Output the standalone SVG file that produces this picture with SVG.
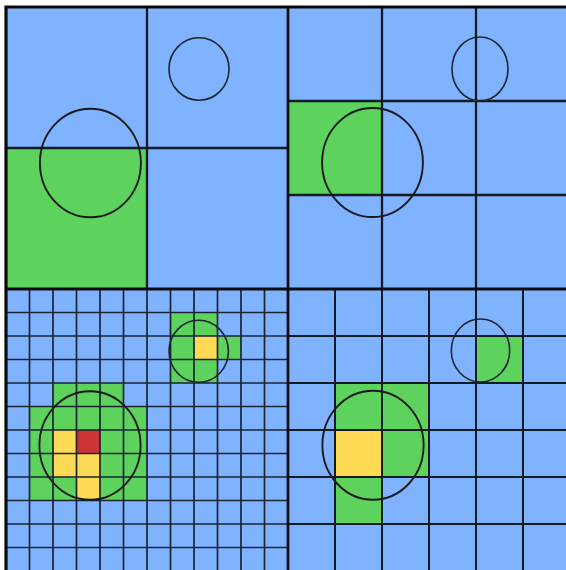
<svg xmlns="http://www.w3.org/2000/svg" width="566" height="570" viewBox="0 0 566 570">
  <style>
    .blue{fill:#80B3FF}
    .green{fill:#5DD25D}
    .yellow{fill:#FFDA55}
    .red{fill:#CC3535}
    .fine{stroke:#1b2433;stroke-width:1.7;fill:none}
    .mid{stroke:#121a26;stroke-width:2.3;fill:none}
    .thick{stroke:#0d0d12;stroke-width:2.8;fill:none}
    .border{stroke:#0a0a0a;stroke-width:3.2;fill:none}
    .circ{stroke:#1a1a1a;stroke-width:1.9;fill:none}
    .circs{stroke:#1e2430;stroke-width:1.6;fill:none}
  </style>
  <rect x="0" y="0" width="566" height="570" fill="#ffffff"/>
  <rect class="blue" x="6" y="7" width="564" height="564"/>

  <g id="quadrant-top-left">
    <rect class="green" x="6" y="148" width="141" height="141"/>
    <path class="mid" d="M147,7 V289 M6,148 H288"/>
  </g>

  <g id="quadrant-top-right">
    <rect class="green" x="288" y="101" width="94" height="94"/>
    <path class="mid" d="M382,7 V289 M476,7 V289 M288,101 H570 M288,195 H570"/>
  </g>

  <g id="quadrant-bottom-left">
    <rect class="green" x="170.5" y="312.5" width="47" height="23.5"/>
    <rect class="green" x="170.5" y="336" width="23.5" height="23.5"/>
    <rect class="yellow" x="194" y="336" width="23.5" height="23.5"/>
    <rect class="green" x="217.5" y="336" width="23.5" height="23.5"/>
    <rect class="green" x="170.5" y="359.5" width="47" height="23.5"/>
    <rect class="green" x="53" y="383" width="70.5" height="23.5"/>
    <rect class="green" x="29.5" y="406.5" width="117.5" height="94"/>
    <rect class="yellow" x="53" y="430" width="23.5" height="47"/>
    <rect class="red" x="76.5" y="430" width="23.5" height="23.5"/>
    <rect class="yellow" x="76.5" y="453.5" width="23.5" height="47"/>
    <path class="fine" d="M29.5,289 V571 M53,289 V571 M76.5,289 V571 M100,289 V571 M123.5,289 V571 M147,289 V571 M170.5,289 V571 M194,289 V571 M217.5,289 V571 M241,289 V571 M264.5,289 V571
      M6,312.5 H288 M6,336 H288 M6,359.5 H288 M6,383 H288 M6,406.5 H288 M6,430 H288 M6,453.5 H288 M6,477 H288 M6,500.5 H288 M6,524 H288 M6,547.5 H288"/>
  </g>

  <g id="quadrant-bottom-right">
    <rect class="green" x="476" y="336" width="47" height="47"/>
    <rect class="green" x="335" y="383" width="94" height="47"/>
    <rect class="yellow" x="335" y="430" width="47" height="47"/>
    <rect class="green" x="382" y="430" width="47" height="47"/>
    <rect class="green" x="335" y="477" width="47" height="47"/>
    <path class="mid" style="stroke-width:2" d="M335,289 V571 M382,289 V571 M429,289 V571 M476,289 V571 M523,289 V571
      M288,336 H570 M288,383 H570 M288,430 H570 M288,477 H570 M288,524 H570"/>
  </g>

  <g id="quadrant-dividers">
    <path class="thick" d="M288,7 V571 M6,289 H570"/>
    <path class="border" d="M6,571 V7 H570"/>
  </g>

  <g id="circles">
    <ellipse class="circ" cx="90.4" cy="163" rx="50.5" ry="54.3"/>
    <ellipse class="circs" cx="199" cy="69" rx="30" ry="31.3"/>
    <ellipse class="circ" cx="372.5" cy="162.5" rx="50.4" ry="54.5"/>
    <ellipse class="circs" cx="480" cy="69" rx="28" ry="32"/>
    <ellipse class="circ" cx="90" cy="445.5" rx="50.6" ry="54.2"/>
    <ellipse class="circs" cx="198.7" cy="351.3" rx="29.7" ry="31"/>
    <ellipse class="circ" cx="373" cy="445.2" rx="50.6" ry="54.5"/>
    <ellipse class="circs" cx="480.5" cy="350.5" rx="29.2" ry="31.5"/>
  </g>
</svg>
